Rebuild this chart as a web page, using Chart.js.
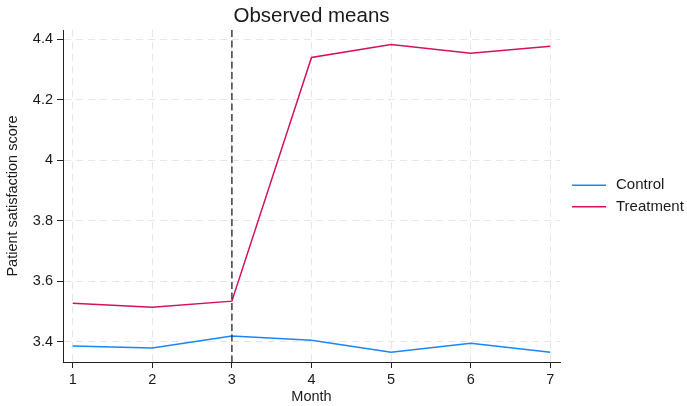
<!DOCTYPE html>
<html><head><meta charset="utf-8">
<script src="https://cdn.jsdelivr.net/npm/chart.js@4.4.0/dist/chart.umd.min.js"></script>
<style>html,body{margin:0;padding:0;background:#fff}</style>
</head><body>
<canvas id="c" width="687" height="406" style="display:block;width:687px;height:406px"></canvas>
<script>
const months = [1, 2, 3, 4, 5, 6, 7];
const seriesNames = ['Control', 'Treatment'];
const control = [3.386, 3.379, 3.419, 3.405, 3.365, 3.395, 3.365];
const treatment = [3.527, 3.514, 3.534, 4.340, 4.383, 4.354, 4.377];
const xTicks = [1, 2, 3, 4, 5, 6, 7];
const yTicks = [3.4, 3.6, 3.8, 4, 4.2, 4.4];
const interventionMonth = 3;

const FONT = '"Liberation Sans", Arial, Helvetica, sans-serif';
Chart.defaults.font.family = FONT;
Chart.defaults.color = '#1a1a1a';

const markerLine = {
  id: 'markerLine',
  afterDatasetsDraw(chart) {
    const ctx = chart.ctx;
    const x = chart.scales.x.getPixelForValue(interventionMonth);
    const {top, bottom} = chart.chartArea;
    ctx.save();
    ctx.setLineDash([7, 3.5]);
    ctx.strokeStyle = '#333';
    ctx.lineWidth = 1.4;
    ctx.beginPath();
    ctx.moveTo(x, top);
    ctx.lineTo(x, bottom);
    ctx.stroke();
    ctx.restore();
  }
};

const customLegend = {
  id: 'customLegend',
  afterDraw(chart) {
    const ctx = chart.ctx;
    const ca = chart.chartArea;
    const mid = (ca.top + ca.bottom) / 2;
    const n = chart.data.datasets.length;
    const gap = 21.7;
    chart.data.datasets.forEach((ds, i) => {
      const y = mid + (i - (n - 1) / 2) * gap;
      ctx.save();
      ctx.strokeStyle = ds.borderColor;
      ctx.lineWidth = ds.borderWidth;
      ctx.beginPath();
      ctx.moveTo(ca.right + 12, y);
      ctx.lineTo(ca.right + 46, y);
      ctx.stroke();
      ctx.fillStyle = '#1a1a1a';
      ctx.font = '15px ' + FONT;
      ctx.textBaseline = 'middle';
      ctx.textAlign = 'left';
      ctx.fillText(ds.label, ca.right + 56, y);
      ctx.restore();
    });
  }
};

const gridOpts = {
  color: '#e6e6e6', lineWidth: 1,
  tickColor: '#222', tickLength: 6, tickWidth: 1, tickBorderDash: []
};
const borderOpts = {display: true, color: '#222', width: 1, dash: [7, 5]};

new Chart(document.getElementById('c'), {
  type: 'line',
  data: {
    datasets: [
      {
        label: seriesNames[0],
        data: months.map((m, i) => ({x: m, y: control[i]})),
        borderColor: '#1a85ff', borderWidth: 1.5, pointRadius: 0, tension: 0, fill: false
      },
      {
        label: seriesNames[1],
        data: months.map((m, i) => ({x: m, y: treatment[i]})),
        borderColor: '#d41159', borderWidth: 1.5, pointRadius: 0, tension: 0, fill: false
      }
    ]
  },
  options: {
    responsive: false,
    animation: false,
    devicePixelRatio: 1,
    layout: {padding: {left: 0, right: 127, top: 0, bottom: 0}},
    plugins: {
      legend: {display: false},
      tooltip: {enabled: false},
      title: {
        display: true, text: 'Observed means', fullSize: false,
        font: {size: 20.5, weight: 'normal'}, color: '#1a1a1a',
        padding: {top: 4, bottom: 1.4}
      }
    },
    scales: {
      x: {
        type: 'linear', min: 0.878, max: 7.122,
        afterBuildTicks(s) { s.ticks = xTicks.map(v => ({value: v})); },
        afterFit(s) { s.height = 44; },
        ticks: {font: {size: 14.5}, color: '#1a1a1a', padding: 3, maxRotation: 0, autoSkip: false, callback: v => String(v)},
        grid: gridOpts,
        border: borderOpts,
        title: {display: true, text: 'Month', font: {size: 14.5}, color: '#1a1a1a', padding: {top: 0, bottom: 0}}
      },
      y: {
        type: 'linear', min: 3.3328, max: 4.4308,
        afterBuildTicks(s) { s.ticks = yTicks.map(v => ({value: v})); },
        afterFit(s) { s.width = 63; },
        ticks: {font: {size: 14.5}, color: '#1a1a1a', padding: 4, autoSkip: false, callback: v => String(v)},
        grid: gridOpts,
        border: borderOpts,
        title: {display: true, text: 'Patient satisfaction score', font: {size: 14.5}, color: '#1a1a1a', padding: {top: 4, bottom: 0}}
      }
    }
  },
  plugins: [markerLine, customLegend]
});
</script>
</body></html>
